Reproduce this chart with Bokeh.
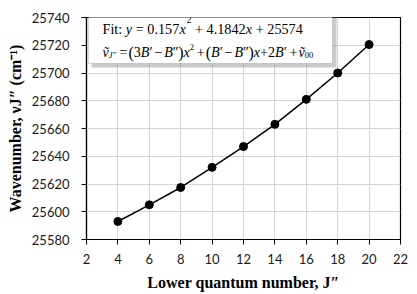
from bokeh.plotting import figure
from bokeh.models import Range1d, FixedTicker, Label, BoxAnnotation
from bokeh.embed import file_html
from bokeh.resources import INLINE

# ---------------- data ----------------
j_lower = [4, 6, 8, 10, 12, 14, 16, 18, 20]
wavenumber = [25593, 25605, 25617.5, 25632, 25647, 25663, 25681, 25700, 25720.5]
x_ticks = [2, 4, 6, 8, 10, 12, 14, 16, 18, 20, 22]
y_ticks = [25580, 25600, 25620, 25640, 25660, 25680, 25700, 25720, 25740]
x_title = "Lower quantum number, J\u2033"
y_title = "Wavenumber, \u03bdJ\u2033 (cm\u207b\u00b9)"

# ---------------- layout ----------------
W, H = 417, 294
BL, BR, BT, BB = 86, 17, 17, 55
X0, X1 = 2, 22
Y0, Y1 = 25580, 25740
FW, FH = W - BL - BR, H - BT - BB

p = figure(width=W, height=H, output_backend="svg", toolbar_location=None,
           x_range=Range1d(X0, X1), y_range=Range1d(Y0, Y1),
           min_border_left=BL, min_border_right=BR,
           min_border_top=BT, min_border_bottom=BB)
p.background_fill_color = "white"
p.border_fill_color = "white"
p.outline_line_color = "black"
p.outline_line_width = 1.2

p.xaxis.ticker = FixedTicker(ticks=x_ticks)
p.yaxis.ticker = FixedTicker(ticks=y_ticks)
p.grid.grid_line_color = "#d4d4d4"
p.grid.grid_line_width = 1
for ax in (p.xaxis[0], p.yaxis[0]):
    ax.axis_line_color = "black"
    ax.axis_line_width = 1.2
    ax.major_tick_line_color = "black"
    ax.major_tick_in = 0
    ax.major_tick_out = 5
    ax.minor_tick_line_color = None
    ax.major_label_text_font = "Lato"
    ax.major_label_text_font_size = "13px"
    ax.major_label_text_color = "#1a1a1a"
    ax.axis_label_text_font = "Liberation Serif"
    ax.axis_label_text_font_size = "16px"
    ax.axis_label_text_font_style = "bold"
    ax.axis_label_text_color = "black"
p.xaxis.major_label_standoff = 9
p.yaxis.major_label_standoff = 12
p.xaxis.axis_label = x_title
p.yaxis.axis_label = y_title
p.xaxis.axis_label_standoff = 7
p.yaxis.axis_label_standoff = 5

p.line(j_lower, wavenumber, line_color="black", line_width=1.5)
p.scatter(j_lower, wavenumber, size=8, fill_color="black", line_color="black")


# picture pixel -> data coordinates
def dx(ix):
    return X0 + (ix - BL) * (X1 - X0) / FW


def dy(iy):
    return Y1 - (iy - BT) * (Y1 - Y0) / FH


# approximate Times / Liberation Serif advance widths (per 1000 em)
REG = {'(': 333, ')': 333, '+': 564, '.': 250, ':': 278, '=': 564, 'F': 556,
       'i': 278, 't': 278, '\u2212': 564, '\u2032': 220, '\u2033': 380}
ITA = {'x': 444, 'y': 444, 'B': 611, 'J': 444, '\u1e7d': 444}
TABLES = {"normal": REG, "italic": ITA}


def tw(text, size, style):
    t = TABLES[style]
    return sum(t.get(ch, 500) for ch in text) / 1000.0 * size


def run_h(runs, ix, iy, k):
    for txt, size, style, off, gap in runs:
        sz = size * k
        ix += gap * k
        p.add_layout(Label(x=dx(ix), y=dy(iy - off), text=txt,
                           text_font="Liberation Serif",
                           text_font_size=f"{sz:.1f}px", text_font_style=style,
                           text_color="black", text_align="left",
                           text_baseline="alphabetic"))
        ix += tw(txt, sz, style)


# legend box with shadow
p.add_layout(BoxAnnotation(left=dx(91), right=dx(336), top=dy(8), bottom=dy(67),
                           fill_color="#8c8c8c", fill_alpha=0.45, line_color=None))
p.add_layout(BoxAnnotation(left=dx(88), right=dx(332), top=dy(5), bottom=dy(63),
                           fill_color="white", fill_alpha=1.0,
                           line_color="#7f7f7f", line_width=1))

S = 3.75  # a space at 15px
line1 = [("Fit:", 15, "normal", 0, 0), ("y", 15, "italic", 0, S),
         ("=", 15, "normal", 0, S), ("0.157", 15, "normal", 0, S),
         ("x", 15, "italic", 0, 0), ("2", 10, "normal", 9, 1),
         ("+", 15, "normal", 0, S), ("4.1842", 15, "normal", 0, S),
         ("x", 15, "italic", 0, 0), ("+", 15, "normal", 0, S),
         ("25574", 15, "normal", 0, S)]
run_h(line1, 102, 28, 0.95)

line2 = [("\u1e7d", 15, "italic", 0, 0), ("J\u2033", 9, "italic", -3, 0),
         ("=", 15, "normal", 0, 3), ("(", 17, "normal", -1, 1),
         ("3", 15, "normal", 0, 0), ("B", 15, "italic", 0, 0),
         ("\u2032", 15, "normal", 0, 0), ("\u2212", 15, "normal", 0, 2),
         ("B", 15, "italic", 0, 2), ("\u2033", 15, "normal", 0, 0),
         (")", 17, "normal", -1, 0), ("x", 15, "italic", 0, 0),
         ("2", 9, "normal", 5, 0), ("+", 15, "normal", 0, 3),
         ("(", 17, "normal", -1, 1), ("B", 15, "italic", 0, 0),
         ("\u2032", 15, "normal", 0, 0), ("\u2212", 15, "normal", 0, 2),
         ("B", 15, "italic", 0, 2), ("\u2033", 15, "normal", 0, 0),
         (")", 17, "normal", -1, 0), ("x", 15, "italic", 0, 0),
         ("+2", 15, "normal", 0, 0), ("B", 15, "italic", 0, 0),
         ("\u2032", 15, "normal", 0, 0), ("+", 15, "normal", 0, 3),
         ("\u1e7d", 15, "italic", 0, 1), ("00", 9, "normal", -3, 0)]
run_h(line2, 102, 51, 0.94)

open("out.html", "w").write(file_html(p, INLINE))
